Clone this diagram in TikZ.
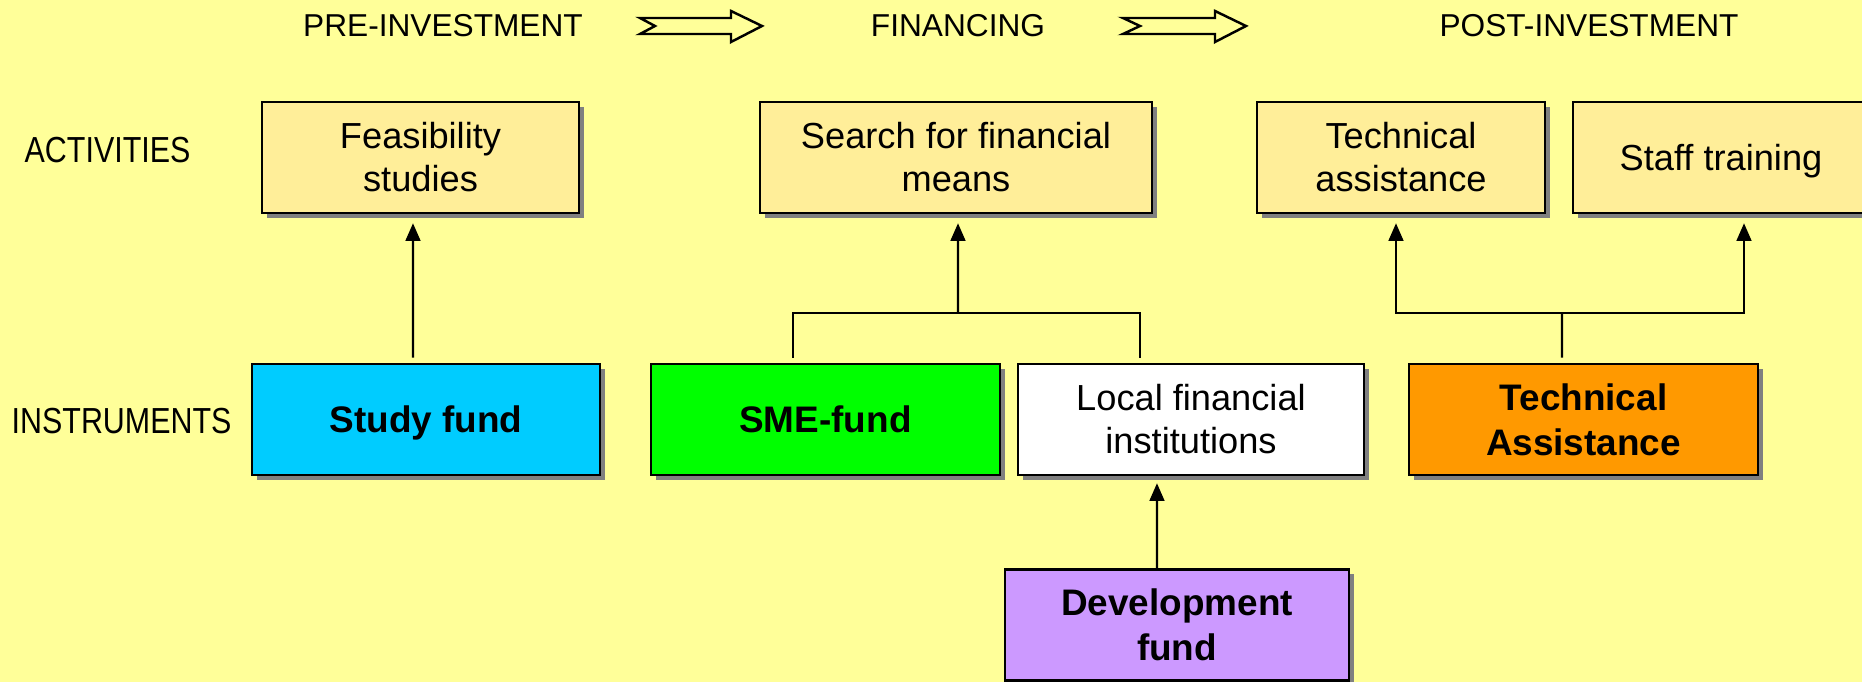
\documentclass[tikz,border=0pt]{standalone}
\usepackage{fontspec}
\setmainfont{Liberation Sans}
\usepackage{graphicx}
\usetikzlibrary{shadows,arrows.meta}
\definecolor{bg}{HTML}{FFFF99}
\definecolor{actfill}{HTML}{FFEE99}
\definecolor{shade}{HTML}{808080}
\definecolor{studyc}{HTML}{00CCFF}
\definecolor{smec}{HTML}{00FF00}
\definecolor{tac}{HTML}{FF9900}
\definecolor{devc}{HTML}{CC99FF}
\tikzset{
  box/.style={draw=black, line width=0.7pt, inner sep=0pt, align=center, minimum height=1.11cm,
    drop shadow={shadow xshift=0.05cm, shadow yshift=-0.05cm, fill=shade, opacity=1}},
  act/.style={box, fill=actfill, font=\fontsize{10.3}{12.2}\selectfont},
  inst/.style={box, font=\fontsize{10.5}{12.7}\selectfont\bfseries},
  oneline/.style={text height=7.5pt, text depth=0pt},
  conn/.style={draw=black, line width=0.6pt},
  arr/.style={conn, -{Triangle[width=4.2pt,length=5pt]}},
  head/.style={font=\fontsize{9}{11}\selectfont, inner sep=0pt},
  side/.style={font=\fontsize{10.3}{12}\selectfont, inner sep=0pt, anchor=west},
  fat/.style={draw=black, line width=0.7pt, line join=miter},
}

\begin{document}
\begin{tikzpicture}[x=0.01cm, y=-0.01cm]
  \fill[bg] (0,0) rectangle (1862,682);
  \useasboundingbox (0,0) rectangle (1862,682);
  % phases
  \node[head] (pre) at (443,26) {PRE-INVESTMENT};
  \node[head] (fin) at (958,26) {FINANCING};
  \node[head] (post) at (1589,26) {POST-INVESTMENT};
  \draw[fat] (640,18) -- (655,26) -- (640,34) -- (731,34) -- (731,42) -- (762,26) -- (731,11) -- (731,18) -- cycle;
  \draw[fat] (1123,18) -- (1140,26) -- (1123,34) -- (1215,34) -- (1215,42) -- (1246,26) -- (1215,11) -- (1215,18) -- cycle;
  % rows
  \node[side] (actlab) at (24,150) {\scalebox{0.84}[1]{ACTIVITIES}};
  \node[side] (instlab) at (11,421) {\scalebox{0.84}[1]{INSTRUMENTS}};
  % activities
  \node[act, minimum width=3.17cm] (feas) at (420.5,157.5) {Feasibility\\studies};
  \node[act, minimum width=3.92cm] (search) at (956,157.5) {Search for financial\\means};
  \node[act, minimum width=2.88cm] (techact) at (1401,157.5) {Technical\\assistance};
  \node[act, oneline, minimum width=2.96cm] (staff) at (1721,157.5) {Staff training};
  % instruments
  \node[inst, oneline, fill=studyc, minimum width=3.48cm] (study) at (426,419.5) {Study fund};
  \node[inst, oneline, fill=smec, minimum width=3.49cm] (sme) at (825.5,419.5) {SME-fund};
  \node[act, fill=white, minimum width=3.46cm] (local) at (1191,419.5) {Local financial\\institutions};
  \node[inst, fill=tac, minimum width=3.49cm] (techa) at (1583.5,419.5) {Technical\\Assistance};
  \node[inst, fill=devc, minimum width=3.44cm] (devfund) at (1177,625) {Development\\fund};
  % links
  \coordinate (jfin) at (958,313);
  \coordinate (jpost) at (1562,313);
  \draw[arr] ([xshift=-0.13cm,yshift=0.05cm]study.north) -- ([xshift=-0.075cm,yshift=-0.09cm]feas.south);
  \draw[conn] ([xshift=-0.325cm,yshift=0.05cm]sme.north) |- (jfin) -| ([xshift=-0.51cm,yshift=0.05cm]local.north);
  \draw[arr] (jfin) -- ([xshift=0.02cm,yshift=-0.09cm]search.south);
  \draw[conn] ([xshift=-0.215cm,yshift=0.05cm]techa.north) -- (jpost);
  \draw[arr] (jpost) -| ([xshift=-0.05cm,yshift=-0.09cm]techact.south);
  \draw[arr] (jpost) -| ([xshift=0.23cm,yshift=-0.09cm]staff.south);
  \draw[arr] ([xshift=-0.2cm]devfund.north) -- ([xshift=-0.34cm,yshift=-0.07cm]local.south);
\end{tikzpicture}
\end{document}
